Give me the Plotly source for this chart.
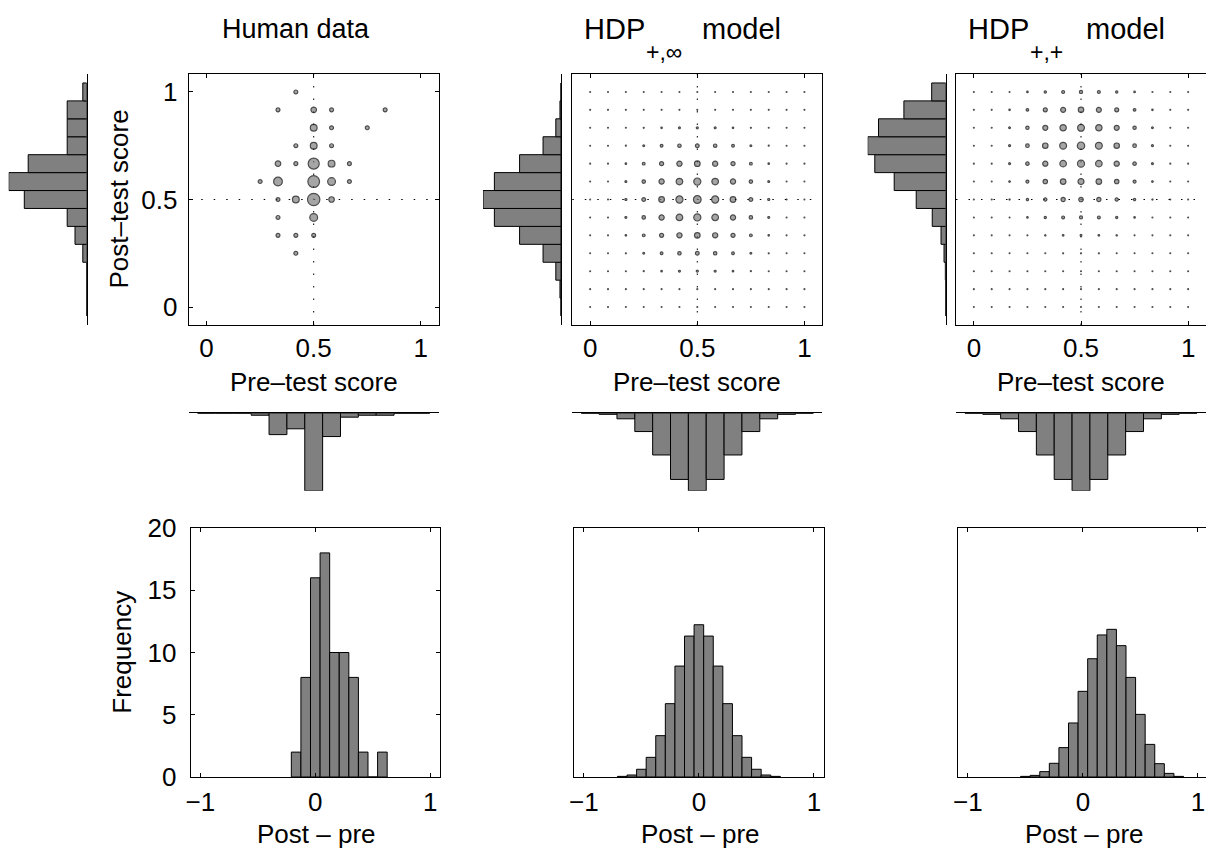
import math
import plotly.graph_objects as go

# ---------------- data ----------------
score_k = list(range(13))                 # score = k/12
diff_bins_human = [-2, -1, 0, 1, 2, 3, 4, 5, 6, 7]
diff_bins_inf = [-8, -7, -6, -5, -4, -3, -2, -1, 0, 1, 2, 3, 4, 5, 6, 7, 8]
diff_bins_pp = [-6, -5, -4, -3, -2, -1, 0, 1, 2, 3, 4, 5, 6, 7, 8, 9, 10]

# Human data: counts, rows = post-test score k (0..12), cols = pre-test score k (0..12)
human_counts = [
    [0, 0, 0, 0, 0, 0, 0, 0, 0, 0, 0, 0, 0],
    [0, 0, 0, 0, 0, 0, 0, 0, 0, 0, 0, 0, 0],
    [0, 0, 0, 0, 0, 0, 0, 0, 0, 0, 0, 0, 0],
    [0, 0, 0, 0, 0, 1, 0, 0, 0, 0, 0, 0, 0],
    [0, 0, 0, 0, 1, 1, 1, 0, 0, 0, 0, 0, 0],
    [0, 0, 0, 0, 1, 0, 4, 0, 0, 0, 0, 0, 0],
    [0, 0, 0, 0, 1, 3, 10, 2, 0, 0, 0, 0, 0],
    [0, 0, 0, 1, 5, 0, 9, 4, 1, 0, 0, 0, 0],
    [0, 0, 0, 0, 2, 1, 8, 3, 1, 0, 0, 0, 0],
    [0, 0, 0, 0, 0, 1, 3, 1, 0, 0, 0, 0, 0],
    [0, 0, 0, 0, 0, 0, 3, 1, 0, 1, 0, 0, 0],
    [0, 0, 0, 0, 1, 0, 2, 1, 0, 0, 1, 0, 0],
    [0, 0, 0, 0, 0, 1, 0, 0, 0, 0, 0, 0, 0],
]
human_post_hist = [0, 0, 0, 1, 3, 5, 16, 20, 15, 5, 5, 5, 1]
human_pre_hist = [0, 0, 0, 1, 11, 8, 40, 12, 2, 1, 1, 0, 0]
human_diff_hist = [2, 8, 16, 18, 10, 10, 8, 2, 0, 2]
human_n = 76

# HDP_{+,inf} model: joint probability (1/10000), rows = post k, cols = pre k
hdp_inf_joint = [
    [0, 0, 0, 0, 0, 0, 0, 0, 0, 0, 0, 0, 0],
    [0, 0, 0, 2, 4, 6, 7, 6, 4, 2, 0, 0, 0],
    [0, 0, 3, 9, 19, 31, 36, 31, 19, 9, 3, 0, 0],
    [0, 2, 9, 29, 65, 104, 121, 104, 65, 29, 9, 2, 0],
    [0, 4, 19, 65, 146, 234, 273, 234, 146, 65, 19, 4, 0],
    [0, 6, 31, 104, 234, 374, 436, 374, 234, 104, 31, 6, 0],
    [0, 7, 36, 121, 273, 436, 509, 436, 273, 121, 36, 7, 0],
    [0, 6, 31, 104, 234, 374, 436, 374, 234, 104, 31, 6, 0],
    [0, 4, 19, 65, 146, 234, 273, 234, 146, 65, 19, 4, 0],
    [0, 2, 9, 29, 65, 104, 121, 104, 65, 29, 9, 2, 0],
    [0, 0, 3, 9, 19, 31, 36, 31, 19, 9, 3, 0, 0],
    [0, 0, 0, 2, 4, 6, 7, 6, 4, 2, 0, 0, 0],
    [0, 0, 0, 0, 0, 0, 0, 0, 0, 0, 0, 0, 0],
]
hdp_inf_post_hist = [0.0, 0.3, 1.5, 5.2, 12.0, 19.3, 22.6, 19.3, 12.0, 5.2, 1.5, 0.3, 0.0]
hdp_inf_pre_hist = [0.0, 0.3, 1.6, 5.3, 12.1, 19.2, 22.5, 19.2, 12.1, 5.3, 1.6, 0.3, 0.0]
hdp_inf_diff_hist = [0.05, 0.16, 0.62, 1.58, 3.32, 5.89, 8.91, 11.32, 12.23,
                     11.32, 8.91, 5.89, 3.32, 1.58, 0.62, 0.16, 0.05]

# HDP_{+,+} model
hdp_pp_joint = [
    [0, 0, 0, 0, 0, 0, 0, 0, 0, 0, 0, 0, 0],
    [0, 0, 0, 0, 0, 0, 0, 0, 0, 0, 0, 0, 0],
    [0, 0, 0, 1, 1, 2, 2, 2, 1, 1, 0, 0, 0],
    [0, 0, 1, 2, 5, 9, 10, 9, 5, 2, 1, 0, 0],
    [0, 0, 2, 7, 15, 24, 28, 24, 15, 7, 2, 0, 0],
    [0, 1, 6, 19, 43, 70, 81, 70, 43, 19, 6, 1, 0],
    [0, 2, 13, 42, 95, 153, 178, 153, 95, 42, 13, 2, 0],
    [0, 4, 22, 74, 167, 267, 311, 267, 167, 74, 22, 4, 0],
    [0, 6, 31, 102, 230, 367, 429, 367, 230, 102, 31, 6, 0],
    [0, 6, 34, 112, 252, 404, 472, 404, 252, 112, 34, 6, 0],
    [0, 5, 29, 97, 217, 348, 406, 348, 217, 97, 29, 5, 0],
    [0, 3, 18, 60, 135, 217, 253, 217, 135, 60, 18, 3, 0],
    [0, 1, 6, 20, 45, 73, 85, 73, 45, 20, 6, 1, 0],
]
hdp_pp_post_hist = [0.0, 0.0, 0.1, 0.45, 1.25, 3.6, 7.9, 13.8, 19.0, 20.9, 18.0, 11.2, 3.75]
hdp_pp_pre_hist = [0.0, 0.3, 1.6, 5.3, 12.1, 19.2, 22.5, 19.2, 12.1, 5.3, 1.6, 0.3, 0.0]
hdp_pp_diff_hist = [0.05, 0.13, 0.43, 1.10, 2.36, 4.34, 6.88, 9.50, 11.41,
                    11.86, 10.55, 8.00, 5.03, 2.62, 1.07, 0.29, 0.05]

model_title_main = "HDP"
model_title_subs = ["+,∞", "+,+"]
model_title_tail = "model"

# ---------------- layout helpers ----------------
W, H = 1206, 848
FONT = "Liberation Sans"
GRAY = "#808080"
BIN = 1 / 12


def fx(px):
    return max(0.0, min(1.0, px / W))


def fy(py):
    return max(0.0, min(1.0, 1 - py / H))


def ax_name(kind, n):
    return kind + "axis" + ("" if n == 1 else str(n))


def ax_ref(kind, n):
    return kind + ("" if n == 1 else str(n))


scat_left = [188.7, 572.3, 956.0]
hist_line = [86.7, 561.0, 945.7]
diff_left = [190.7, 574.3, 958.3]
SW = 250.0
SC_TOP, SC_BOT = 74.0, 325.0
MARG_TOP, MARG_LEN = 413.3, 77.5
DF_TOP, DF_BOT = 528.0, 777.0
DIFF_PX_PER_UNIT = 115.0

fig = go.Figure()
layout = {}
shapes = []
annotations = []

panels = [
    (human_counts, human_n, human_post_hist, human_pre_hist, diff_bins_human, human_diff_hist),
    (hdp_inf_joint, 10000, hdp_inf_post_hist, hdp_inf_pre_hist, diff_bins_inf, hdp_inf_diff_hist),
    (hdp_pp_joint, 10000, hdp_pp_post_hist, hdp_pp_pre_hist, diff_bins_pp, hdp_pp_diff_hist),
]

tickfont = dict(family=FONT, size=26, color="black")
labelfont = dict(family=FONT, size=26, color="black")
K = 34.0

for c, (joint, total, post_h, pre_h, dbins, dvals) in enumerate(panels):
    nS, nL, nB, nD = 4 * c + 1, 4 * c + 2, 4 * c + 3, 4 * c + 4
    srange = [-1 / 12, 13 / 12]

    # ---- scatter ----
    xs, ys, sizes = [], [], []
    for j in score_k:
        for i in score_k:
            v = joint[j][i]
            if c == 0 and v == 0:
                continue
            xs.append(i / 12)
            ys.append(j / 12)
            sizes.append(max(0.9, K * math.sqrt(v / total)))
    fig.add_trace(go.Scatter(
        x=xs, y=ys, mode="markers", xaxis=ax_ref("x", nS), yaxis=ax_ref("y", nS),
        marker=dict(size=sizes, color=GRAY, line=dict(color="black", width=1.2)),
        hoverinfo="skip", showlegend=False))
    x0 = scat_left[c]
    layout[ax_name("x", nS)] = dict(
        domain=[fx(x0), fx(x0 + SW)], range=srange, anchor=ax_ref("y", nS),
        showline=True, linecolor="black", linewidth=1, mirror="ticks",
        ticks="inside", ticklen=4, tickcolor="black", tickwidth=1,
        tickvals=[0, 0.5, 1], ticktext=["0", "0.5", "1"], tickfont=tickfont,
        ticklabelstandoff=0, automargin=False,
        showgrid=False, zeroline=False)
    layout[ax_name("y", nS)] = dict(
        domain=[fy(SC_BOT), fy(SC_TOP)], range=srange, anchor=ax_ref("x", nS),
        showline=True, linecolor="black", linewidth=1,
        mirror="ticks" if c == 0 else True,
        ticks="inside" if c == 0 else "", ticklen=4, tickcolor="black", tickwidth=1,
        tickvals=[0, 0.5, 1], ticktext=["0", "0.5", "1"], tickfont=tickfont,
        showticklabels=(c == 0), ticklabelstandoff=5, automargin=False,
        showgrid=False, zeroline=False)
    # dotted reference lines at 0.5
    shapes.append(dict(type="line", xref=ax_ref("x", nS) + " domain", yref=ax_ref("y", nS),
                       x0=0, x1=1, y0=0.5, y1=0.5, layer="below",
                       line=dict(color="black", width=1, dash="1.5px,11px")))
    shapes.append(dict(type="line", xref=ax_ref("x", nS), yref=ax_ref("y", nS) + " domain",
                       x0=0.5, x1=0.5, y0=0, y1=1, layer="below",
                       line=dict(color="black", width=1, dash="1.5px,11px")))

    # ---- left marginal (post-test) ----
    fig.add_trace(go.Bar(
        x=post_h, y=[k / 12 for k in score_k], orientation="h", width=BIN,
        xaxis=ax_ref("x", nL), yaxis=ax_ref("y", nL),
        marker=dict(color=GRAY, line=dict(color="black", width=1)),
        hoverinfo="skip", showlegend=False))
    hl = hist_line[c]
    layout[ax_name("x", nL)] = dict(
        domain=[fx(hl - 78), fx(hl)], range=[max(post_h), 0], anchor=ax_ref("y", nL),
        visible=False, showgrid=False, zeroline=False, automargin=False)
    layout[ax_name("y", nL)] = dict(
        domain=[fy(SC_BOT), fy(SC_TOP)], range=srange, anchor=ax_ref("x", nL),
        side="right", showline=True, linecolor="black", linewidth=1,
        ticks="", showticklabels=False, showgrid=False, zeroline=False, automargin=False)

    # ---- bottom marginal (pre-test) ----
    fig.add_trace(go.Bar(
        x=[k / 12 for k in score_k], y=pre_h, width=BIN,
        xaxis=ax_ref("x", nB), yaxis=ax_ref("y", nB),
        marker=dict(color=GRAY, line=dict(color="black", width=1)),
        hoverinfo="skip", showlegend=False))
    layout[ax_name("x", nB)] = dict(
        domain=[fx(x0), fx(x0 + SW)], range=srange, anchor=ax_ref("y", nB),
        side="top", showline=True, linecolor="black", linewidth=1,
        ticks="", showticklabels=False, showgrid=False, zeroline=False, automargin=False)
    layout[ax_name("y", nB)] = dict(
        domain=[fy(MARG_TOP + MARG_LEN), fy(MARG_TOP)], range=[max(pre_h), 0],
        anchor=ax_ref("x", nB), visible=False, showgrid=False, zeroline=False,
        automargin=False)

    # ---- post - pre histogram ----
    fig.add_trace(go.Bar(
        x=[k / 12 for k in dbins], y=dvals, width=BIN,
        xaxis=ax_ref("x", nD), yaxis=ax_ref("y", nD),
        marker=dict(color=GRAY, line=dict(color="black", width=1)),
        hoverinfo="skip", showlegend=False))
    dl = diff_left[c]
    dr = min(dl + 249.3, W)
    lo = -13 / 12
    layout[ax_name("x", nD)] = dict(
        domain=[fx(dl), fx(dr)], range=[lo, lo + (dr - dl) / DIFF_PX_PER_UNIT],
        anchor=ax_ref("y", nD),
        showline=True, linecolor="black", linewidth=1, mirror="ticks",
        ticks="inside", ticklen=4, tickcolor="black", tickwidth=1,
        tickvals=[-1, 0, 1], ticktext=["−1", "0", "1"], tickfont=tickfont,
        ticklabelstandoff=2, automargin=False, showgrid=False, zeroline=False)
    layout[ax_name("y", nD)] = dict(
        domain=[fy(DF_BOT), fy(DF_TOP)], range=[0, 20], anchor=ax_ref("x", nD),
        showline=True, linecolor="black", linewidth=1,
        mirror="ticks" if c == 0 else True,
        ticks="inside" if c == 0 else "", ticklen=4, tickcolor="black", tickwidth=1,
        tickvals=[0, 5, 10, 15, 20], tickfont=tickfont, showticklabels=(c == 0),
        ticklabelstandoff=8, automargin=False, showgrid=False, zeroline=False)

    # ---- texts ----
    annotations.append(dict(text="Pre–test score", x=fx(x0 + SW / 2), y=fy(382),
                            xref="paper", yref="paper", showarrow=False,
                            xanchor="center", yanchor="middle", font=labelfont))
    annotations.append(dict(text="Post – pre", x=fx(dl + 126), y=fy(834),
                            xref="paper", yref="paper", showarrow=False,
                            xanchor="center", yanchor="middle", font=labelfont))

# titles
titlefont = dict(family=FONT, size=27, color="black")
annotations.append(dict(text="Human data", x=fx(296), y=fy(29), xref="paper", yref="paper",
                        showarrow=False, xanchor="center", yanchor="middle", font=titlefont))
for idx, off in enumerate([0.0, 383.7]):
    annotations.append(dict(text=model_title_main, x=fx(582 + off), y=fy(29),
                            xref="paper", yref="paper", showarrow=False,
                            xanchor="left", yanchor="middle",
                            font=dict(family=FONT, size=29, color="black")))
    annotations.append(dict(text=model_title_subs[idx], x=fx(644 + off), y=fy(52),
                            xref="paper", yref="paper", showarrow=False,
                            xanchor="left", yanchor="middle",
                            font=dict(family=FONT, size=23, color="black")))
    annotations.append(dict(text=model_title_tail, x=fx(700 + off), y=fy(29),
                            xref="paper", yref="paper", showarrow=False,
                            xanchor="left", yanchor="middle",
                            font=dict(family=FONT, size=29, color="black")))

annotations.append(dict(text="Post–test score", x=fx(119), y=fy(199.5), xref="paper",
                        yref="paper", showarrow=False, textangle=-90,
                        xanchor="center", yanchor="middle", font=labelfont))
annotations.append(dict(text="Frequency", x=fx(121.7), y=fy(652), xref="paper",
                        yref="paper", showarrow=False, textangle=-90,
                        xanchor="center", yanchor="middle", font=labelfont))

fig.update_layout(
    template="none",
    width=W, height=H, margin=dict(l=0, r=0, t=0, b=0, pad=0, autoexpand=False),
    paper_bgcolor="white", plot_bgcolor="white", showlegend=False,
    font=dict(family=FONT, color="black"),
    shapes=shapes, annotations=annotations, **layout)

fig.write_html("out.html")
